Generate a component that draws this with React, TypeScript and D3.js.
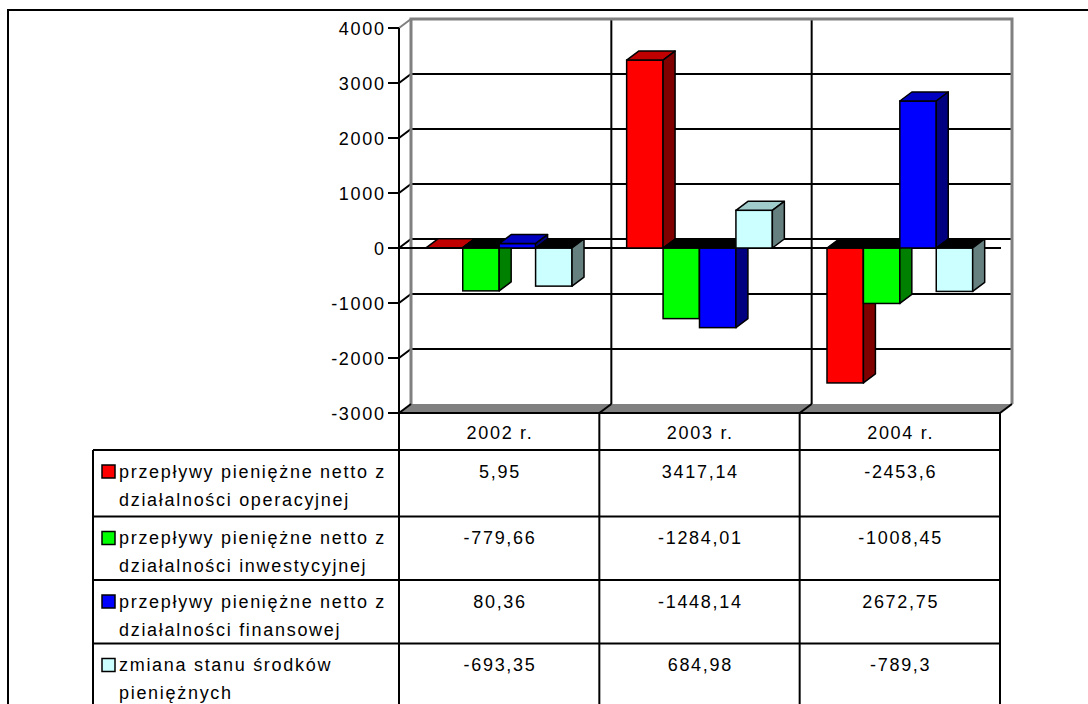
import React from "react";
import * as d3 from "d3";

const categories = ["2002 r.", "2003 r.", "2004 r."];
const seriesKeys = ["operacyjna", "inwestycyjna", "finansowa", "zmiana"];
const seriesLabels = [
  ["przepływy pieniężne netto z", "działalności operacyjnej"],
  ["przepływy pieniężne netto z", "działalności inwestycyjnej"],
  ["przepływy pieniężne netto z", "działalności finansowej"],
  ["zmiana stanu środków", "pieniężnych"],
];
const operacyjna = [5.95, 3417.14, -2453.6];
const inwestycyjna = [-779.66, -1284.01, -1008.45];
const finansowa = [80.36, -1448.14, 2672.75];
const zmiana = [-693.35, 684.98, -789.3];
const seriesValues = [operacyjna, inwestycyjna, finansowa, zmiana];
const yTicks = [-3000, -2000, -1000, 0, 1000, 2000, 3000, 4000];

const colors = [
  { front: "#FF0000", top: "#C00000", side: "#800000" },
  { front: "#00FF00", top: "#00C000", side: "#008000" },
  { front: "#0000FF", top: "#0000C0", side: "#000080" },
  { front: "#CCFFFF", top: "#A0CCCC", side: "#668080" },
];

const FONT = "'Liberation Sans', Arial, sans-serif";
const FS = 18;
const LS = 1.7;

export default function App() {
  const left = 399;
  const right = 1000;
  const DX = 12;
  const DY = -9;
  const y = d3.scaleLinear().domain([-3000, 4000]).range([413, 28]);
  const x = d3.scaleBand<string>().domain(categories).range([left, right]).padding(0);
  const inner = d3
    .scaleBand<string>()
    .domain(seriesKeys)
    .range([0, x.bandwidth()])
    .paddingInner(0)
    .paddingOuter(0.75);
  const y0 = y(0);
  const yMin = y(-3000);
  const yMax = y(4000);

  const pts = (arr: number[][]) => arr.map((p) => p.join(",")).join(" ");

  const bars: React.ReactNode[] = [];
  categories.forEach((cat, ci) => {
    seriesKeys.forEach((key, si) => {
      const v = seriesValues[si][ci];
      const bx = (x(cat) as number) + (inner(key) as number);
      const w = inner.bandwidth();
      const yv = y(v);
      const c = colors[si];
      const top = Math.min(yv, y0);
      const bot = Math.max(yv, y0);
      const sw = 1.5;
      // front face
      bars.push(
        <rect key={`f${ci}${si}`} x={bx} y={top} width={w} height={Math.max(bot - top, 0.01)}
          fill={c.front} stroke="#000" strokeWidth={sw} />
      );
      // top face
      bars.push(
        <polygon key={`t${ci}${si}`}
          points={pts([[bx, top], [bx + w, top], [bx + w + DX, top + DY], [bx + DX, top + DY]])}
          fill={v >= 0 ? c.top : "#000"} stroke="#000" strokeWidth={sw} strokeLinejoin="round" />
      );
      // side face
      bars.push(
        <polygon key={`s${ci}${si}`}
          points={pts([[bx + w, top], [bx + w + DX, top + DY], [bx + w + DX, bot + DY], [bx + w, bot]])}
          fill={c.side} stroke="#000" strokeWidth={sw} strokeLinejoin="round" />
      );
    });
  });

  const rowTops = [450, 516.5, 580, 643.5];
  const tableLeft = 93;
  const txt = {
    fontFamily: FONT,
    fontSize: FS,
    letterSpacing: LS,
    fill: "#000",
  } as const;

  return (
    <svg width={1088} height={704} style={{ position: "absolute", left: 0, top: 0, display: "block" }}>
      <rect x={0} y={0} width={1088} height={704} fill="#fff" />
      {/* outer frame */}
      <line x1={7} y1={10} x2={1088} y2={10} stroke="#000" strokeWidth={2} />
      <line x1={8} y1={9} x2={8} y2={704} stroke="#000" strokeWidth={2} />

      {/* floor */}
      <polygon points={pts([[left, yMin], [right, yMin], [right + DX, yMin + DY], [left + DX, yMin + DY]])}
        fill="#808080" />

      {/* gridlines on back wall with side-wall diagonals */}
      {yTicks.filter((t) => t > -3000 && t < 4000).map((t) => (
        <polyline key={`g${t}`} fill="none" stroke="#000" strokeWidth={2}
          points={pts([[left, y(t)], [left + DX, y(t) + DY], [right + DX, y(t) + DY]])} />
      ))}

      {/* category dividers on back wall */}
      {categories.slice(1).map((cat) => (
        <line key={`d${cat}`} x1={(x(cat) as number) + DX} y1={yMax + DY} x2={(x(cat) as number) + DX} y2={yMin + DY}
          stroke="#000" strokeWidth={2} />
      ))}

      {/* walls border */}
      <polyline fill="none" stroke="#808080" strokeWidth={3}
        points={pts([[left + DX, yMin + DY], [left + DX, yMax + DY], [right + DX, yMax + DY], [right + DX, yMin + DY]])} />
      <line x1={left} y1={yMax} x2={left + DX} y2={yMax + DY} stroke="#808080" strokeWidth={2} />

      {/* front zero line */}
      <line x1={left} y1={y0} x2={right + 1} y2={y0} stroke="#000" strokeWidth={2} />

      {bars}

      {/* floor front edge and diagonals */}
      {[left, ...categories.slice(1).map((c) => x(c) as number), right].map((xx, i) => (
        <line key={`fd${i}`} x1={xx} y1={yMin} x2={xx + DX} y2={yMin + DY} stroke="#000" strokeWidth={2} />
      ))}

      {/* value axis */}
      <line x1={left} y1={yMax} x2={left} y2={704} stroke="#000" strokeWidth={2} />
      {yTicks.map((t) => (
        <g key={`yt${t}`}>
          <line x1={388} y1={y(t)} x2={left} y2={y(t)} stroke="#000" strokeWidth={2} />
          <text x={384 + LS} y={y(t) + 6.5} textAnchor="end" {...txt}>{t}</text>
        </g>
      ))}

      {/* data table */}
      <line x1={left} y1={yMin} x2={right} y2={yMin} stroke="#000" strokeWidth={2} />
      {[...categories.map((c) => x(c) as number), right].slice(1).map((xx, i) => (
        <line key={`tv${i}`} x1={xx} y1={yMin} x2={xx} y2={704} stroke="#000" strokeWidth={2} />
      ))}
      <line x1={tableLeft} y1={rowTops[0]} x2={tableLeft} y2={704} stroke="#000" strokeWidth={2} />
      {rowTops.map((rt, i) => (
        <line key={`th${i}`} x1={tableLeft} y1={rt} x2={right} y2={rt} stroke="#000" strokeWidth={2} />
      ))}
      {categories.map((cat) => (
        <text key={`h${cat}`} x={(x(cat) as number) + x.bandwidth() / 2 + LS / 2} y={439} textAnchor="middle" {...txt}>
          {cat}
        </text>
      ))}
      {seriesKeys.map((key, si) => {
        const rt = rowTops[si];
        return (
          <g key={`row${key}`}>
            <rect x={102} y={rt + 15} width={13} height={13} fill={colors[si].front} stroke="#000" strokeWidth={1.5} />
            {seriesLabels[si].map((line, li) => (
              <text key={li} x={119} y={rt + 27.5 + li * 28} {...txt}>{line}</text>
            ))}
            {categories.map((cat, ci) => (
              <text key={cat} x={(x(cat) as number) + x.bandwidth() / 2 + LS / 2} y={rt + 27.5} textAnchor="middle" {...txt}>
                {String(seriesValues[si][ci]).replace(".", ",")}
              </text>
            ))}
          </g>
        );
      })}
    </svg>
  );
}
